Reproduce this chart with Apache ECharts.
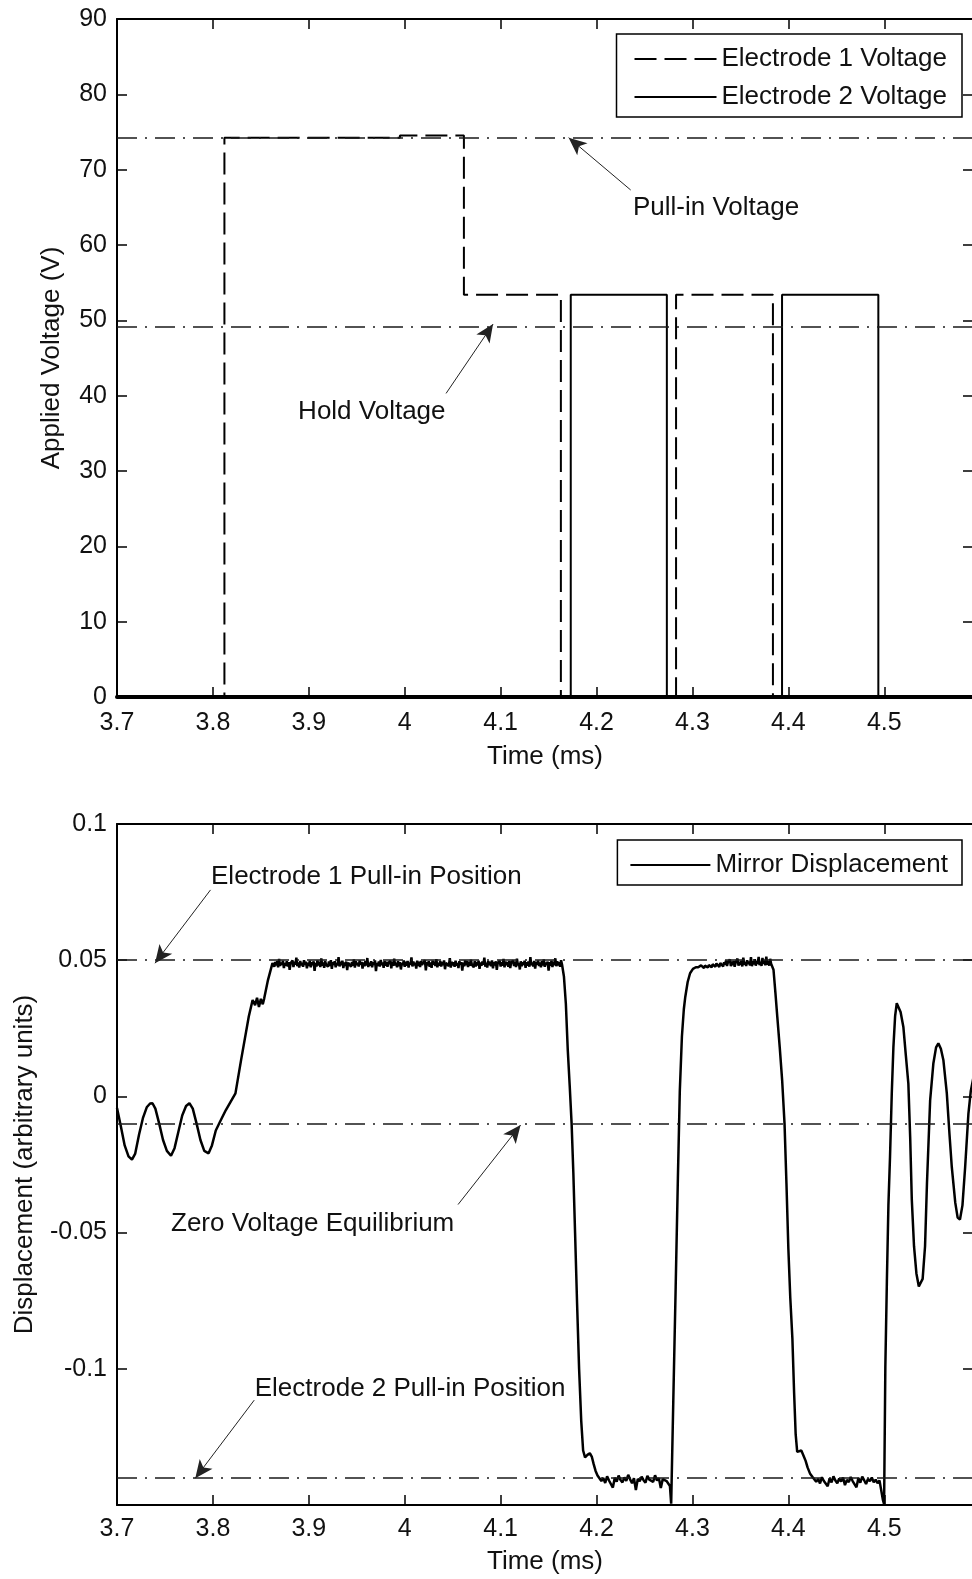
<!DOCTYPE html>
<html>
<head>
<meta charset="utf-8">
<title>Electrode voltages and mirror displacement</title>
<script src="https://cdn.jsdelivr.net/npm/echarts@6/dist/echarts.min.js"></script>
<style>
  html, body { margin: 0; padding: 0; background: #ffffff; }
  #chart { width: 972px; height: 1579px; }
</style>
</head>
<body>
<div id="chart"></div>
<script>
// ---------------- axis ranges ----------------
const timeMin = 3.7;
const timeMax = 4.5925;
const timeStep = 0.1;
const voltageMin = 0;
const voltageMax = 90;
const voltageStep = 10;
const displacementMin = -0.15;
const displacementMax = 0.1;
const displacementStep = 0.05;

// ---------------- applied voltages (time ms, volts) ----------------
const electrode1Voltage = [
  [3.700, 0], [3.812, 0], [3.812, 74.25], [3.995, 74.25], [3.995, 74.55],
  [4.0617, 74.55], [4.0617, 53.4], [4.1628, 53.4], [4.1628, 0],
  [4.2829, 0], [4.2829, 53.4], [4.3839, 53.4], [4.3839, 0], [4.600, 0]
];
const electrode2Voltage = [
  [3.700, 0], [4.1731, 0], [4.1731, 53.4], [4.2733, 53.4], [4.2733, 0],
  [4.3934, 0], [4.3934, 53.4], [4.4938, 53.4], [4.4938, 0], [4.600, 0]
];
const pullInVoltage = 74.25;
const holdVoltage = 49.15;

// ---------------- mirror displacement ----------------
const electrode1PullInPosition = 0.0486;
const zeroVoltageEquilibrium = -0.0111;
const electrode2PullInPosition = -0.1402;

// sample spacing of the plateau records (ms)
const highSampleStep = 0.001;
const lowSampleStep = 0.002;

// ringing before and the climb into electrode 1 pull-in
const dispOnset = [
  [3.7000,-0.0043],[3.7040,-0.0110],[3.7080,-0.0180],[3.7120,-0.0220],[3.7156,-0.0232],
  [3.7190,-0.0210],[3.7230,-0.0140],[3.7270,-0.0080],[3.7310,-0.0040],[3.7345,-0.0026],
  [3.7370,-0.0025],[3.7400,-0.0045],[3.7440,-0.0100],[3.7480,-0.0160],[3.7520,-0.0200],
  [3.7563,-0.0218],[3.7600,-0.0190],[3.7640,-0.0130],[3.7680,-0.0070],[3.7720,-0.0035],
  [3.7755,-0.0025],[3.7790,-0.0045],[3.7830,-0.0100],[3.7870,-0.0160],[3.7910,-0.0200],
  [3.7955,-0.0209],[3.7990,-0.0180],[3.8030,-0.0125],[3.8074,-0.0093],[3.8135,-0.0050],
  [3.8235,0.0011],[3.8294,0.0134],[3.8374,0.0293],[3.8414,0.0354],[3.8440,0.0335],
  [3.8460,0.0362],[3.8480,0.0328],[3.8500,0.0358],[3.8520,0.0338],[3.8535,0.0360],
  [3.8574,0.0427],[3.8621,0.0489]
];
// held against electrode 1 (3.864 - 4.164 ms)
const dispHigh1Start = 3.864;
const dispHigh1 = [
  0.0476,0.0493,0.0481,0.0497,0.0474,0.0505,0.0479,0.0491,0.0483,0.0498,
  0.0471,0.0490,0.0480,0.0496,0.0477,0.0493,0.0465,0.0489,0.0482,0.0499,
  0.0475,0.0494,0.0484,0.0509,0.0478,0.0492,0.0473,0.0497,0.0481,0.0490,
  0.0476,0.0500,0.0483,0.0495,0.0470,0.0491,0.0479,0.0498,0.0474,0.0493,
  0.0482,0.0496,0.0461,0.0490,0.0477,0.0499,0.0481,0.0494,0.0475,0.0507,
  0.0480,0.0492,0.0472,0.0497,0.0484,0.0491,0.0476,0.0495,0.0479,0.0500,
  0.0468,0.0493,0.0483,0.0496,0.0474,0.0490,0.0481,0.0511,0.0477,0.0494,
  0.0482,0.0498,0.0471,0.0492,0.0479,0.0495,0.0464,0.0491,0.0484,0.0497,
  0.0476,0.0493,0.0480,0.0503,0.0473,0.0496,0.0482,0.0490,0.0477,0.0499,
  0.0484,0.0494,0.0469,0.0492,0.0478,0.0497,0.0481,0.0508,0.0475,0.0491,
  0.0480,0.0496,0.0474,0.0493,0.0483,0.0499,0.0460,0.0490,0.0479,0.0495,
  0.0477,0.0501,0.0482,0.0492,0.0472,0.0497,0.0480,0.0494,0.0476,0.0490,
  0.0483,0.0498,0.0470,0.0495,0.0479,0.0506,0.0481,0.0491,0.0474,0.0496,
  0.0478,0.0493,0.0466,0.0490,0.0482,0.0499,0.0476,0.0494,0.0480,0.0497,
  0.0473,0.0492,0.0484,0.0510,0.0477,0.0495,0.0481,0.0491,0.0469,0.0498,
  0.0479,0.0494,0.0475,0.0497,0.0483,0.0490,0.0478,0.0500,0.0463,0.0493,
  0.0481,0.0496,0.0476,0.0492,0.0472,0.0498,0.0484,0.0495,0.0479,0.0504,
  0.0474,0.0491,0.0480,0.0497,0.0477,0.0493,0.0482,0.0499,0.0467,0.0490,
  0.0483,0.0495,0.0478,0.0508,0.0473,0.0494,0.0481,0.0492,0.0476,0.0498,
  0.0480,0.0490,0.0471,0.0496,0.0484,0.0493,0.0462,0.0491,0.0478,0.0499,
  0.0482,0.0497,0.0475,0.0494,0.0479,0.0502,0.0483,0.0490,0.0474,0.0496,
  0.0477,0.0493,0.0481,0.0498,0.0468,0.0492,0.0480,0.0495,0.0484,0.0509,
  0.0476,0.0491,0.0473,0.0497,0.0482,0.0494,0.0478,0.0499,0.0470,0.0493,
  0.0481,0.0496,0.0465,0.0490,0.0483,0.0498,0.0477,0.0492,0.0480,0.0505,
  0.0474,0.0495,0.0482,0.0493,0.0476,0.0497,0.0471,0.0491,0.0484,0.0499,
  0.0479,0.0494,0.0475,0.0506,0.0481,0.0490,0.0466,0.0496,0.0478,0.0492,
  0.0483,0.0498,0.0472,0.0493,0.0480,0.0495,0.0476,0.0511,0.0482,0.0491,
  0.0477,0.0497,0.0469,0.0494,0.0484,0.0499,0.0479,0.0492,0.0474,0.0496,
  0.0481,0.0503,0.0476,0.0491,0.0483,0.0495,0.0462,0.0493,0.0480,0.0498,
  0.0475,0.0494,0.0482,0.0507,0.0478,0.0496,0.0481,0.0492,0.0476,0.0500,
  0.0484
];
const dispFall1 = [
  [4.1660,0.0440],[4.1680,0.0340],[4.1700,0.0170],[4.1720,0.0040],[4.1740,-0.0100],
  [4.1758,-0.0280],[4.1776,-0.0500],[4.1797,-0.0760],[4.1818,-0.1000],[4.1840,-0.1190],
  [4.1860,-0.1300],[4.1880,-0.1325],[4.1905,-0.1316],[4.1930,-0.1310],[4.1950,-0.1322],
  [4.1970,-0.1350],[4.1990,-0.1375],[4.2010,-0.1392]
];
// held against electrode 2 (4.203 - 4.275 ms)
const dispLow1Start = 4.203;
const dispLow1 = [
  -0.1398,-0.1412,-0.1401,-0.1419,-0.1395,-0.1410,-0.1403,-0.1436,-0.1400,-0.1414,
  -0.1392,-0.1408,-0.1417,-0.1399,-0.1411,-0.1389,-0.1406,-0.1420,-0.1402,-0.1445,
  -0.1404,-0.1413,-0.1396,-0.1409,-0.1418,-0.1393,-0.1407,-0.1400,-0.1415,-0.1391,
  -0.1410,-0.1402,-0.1438,-0.1405,-0.1398,-0.1412,-0.1406
];
const dispRise1 = [
  [4.2765,-0.1430],[4.2778,-0.1495],[4.2800,-0.1120],[4.2825,-0.0700],[4.2848,-0.0300],
  [4.2868,0.0020],[4.2890,0.0220],[4.2910,0.0320],[4.2925,0.0365],[4.2950,0.0420],
  [4.2975,0.0452],[4.3005,0.0468],[4.3035,0.0474]
];
// held against electrode 1 again (4.306 - 4.382 ms)
const dispHigh2Start = 4.306;
const dispHigh2 = [
  0.0474,0.0479,0.0472,0.0481,0.0476,0.0483,0.0471,0.0480,0.0477,0.0486,
  0.0473,0.0482,0.0478,0.0489,0.0474,0.0485,0.0480,0.0491,0.0476,0.0488,
  0.0481,0.0494,0.0475,0.0490,0.0483,0.0496,0.0477,0.0492,0.0484,0.0499,
  0.0479,0.0493,0.0486,0.0503,0.0478,0.0495,0.0482,0.0497,0.0476,0.0491,
  0.0485,0.0506,0.0480,0.0494,0.0483,0.0498,0.0477,0.0509,0.0484,0.0493,
  0.0479,0.0500,0.0486,0.0495,0.0481,0.0511,0.0478,0.0496,0.0485,0.0504,
  0.0480,0.0497,0.0487,0.0512,0.0482,0.0494,0.0479,0.0508,0.0486,0.0499,
  0.0481,0.0513,0.0484,0.0496,0.0480,0.0505,0.0487
];
const dispFall2 = [
  [4.3845,0.0465],[4.3865,0.0380],[4.3885,0.0290],[4.3910,0.0180],[4.3935,0.0060],
  [4.3960,-0.0100],[4.3980,-0.0320],[4.4000,-0.0560],[4.4020,-0.0740],[4.4042,-0.0890],
  [4.4060,-0.1090],[4.4076,-0.1240],[4.4092,-0.1305],[4.4112,-0.1298],[4.4135,-0.1300],
  [4.4157,-0.1318],[4.4180,-0.1338],[4.4200,-0.1362],[4.4225,-0.1384],[4.4250,-0.1396]
];
// held against electrode 2 again (4.427 - 4.495 ms)
const dispLow2Start = 4.427;
const dispLow2 = [
  -0.1400,-0.1415,-0.1404,-0.1421,-0.1398,-0.1412,-0.1406,-0.1431,-0.1402,-0.1417,
  -0.1395,-0.1410,-0.1420,-0.1403,-0.1414,-0.1399,-0.1427,-0.1408,-0.1416,-0.1397,
  -0.1412,-0.1405,-0.1435,-0.1401,-0.1418,-0.1396,-0.1409,-0.1423,-0.1404,-0.1413,
  -0.1399,-0.1417,-0.1407,-0.1420,-0.1410
];
// release: free ringing about the zero-voltage equilibrium
const dispRelease = [
  [4.4965,-0.1440],[4.4985,-0.1480],[4.4998,-0.1497],[4.5011,-0.0995],[4.5027,-0.0680],
  [4.5043,-0.0400],[4.5060,-0.0220],[4.5078,0.0010],[4.5095,0.0180],[4.5113,0.0295],
  [4.5130,0.0342],[4.5147,0.0345],[4.5170,0.0310],[4.5199,0.0255],[4.5225,0.0150],
  [4.5251,0.0047],[4.5270,-0.0150],[4.5287,-0.0380],[4.5310,-0.0550],[4.5335,-0.0650],
  [4.5360,-0.0698],[4.5380,-0.0705],[4.5400,-0.0670],[4.5425,-0.0550],[4.5445,-0.0320],
  [4.5478,-0.0015],[4.5512,0.0122],[4.5540,0.0180],[4.5564,0.0195],[4.5590,0.0175],
  [4.5616,0.0134],[4.5652,0.0011],[4.5680,-0.0140],[4.5704,-0.0260],[4.5740,-0.0390],
  [4.5765,-0.0445],[4.5789,-0.0452],[4.5815,-0.0400],[4.5843,-0.0260],[4.5877,-0.0064],
  [4.5902,0.0020],[4.5935,0.0080],[4.5965,0.0110]
];

// ---------------- annotation anchors (time ms, value) ----------------
const voltageNotes = [
  { text: 'Pull-in Voltage', at: [4.2374, 65.3], tail: [4.2356, 67.3], tip: [4.1709, 74.25] },
  { text: 'Hold Voltage', at: [3.8883, 38.2], tail: [4.0431, 40.3], tip: [4.0921, 49.5] }
];
const displacementNotes = [
  { text: 'Electrode 1 Pull-in Position', at: [3.7975, 0.0816], tail: [3.7975, 0.0758], tip: [3.7396, 0.0489] },
  { text: 'Zero Voltage Equilibrium', at: [3.7558, -0.0457], tail: [4.0556, -0.0397], tip: [4.1208, -0.0105] },
  { text: 'Electrode 2 Pull-in Position', at: [3.8431, -0.1063], tail: [3.8431, -0.1115], tip: [3.7816, -0.1402] }
];

// ---------------- assemble the displacement record ----------------
function sampled(start, step, values) {
  return values.map((v, i) => [+(start + i * step).toFixed(4), v]);
}
const mirrorDisplacement = [].concat(
  dispOnset,
  sampled(dispHigh1Start, highSampleStep, dispHigh1),
  dispFall1,
  sampled(dispLow1Start, lowSampleStep, dispLow1),
  dispRise1,
  sampled(dispHigh2Start, highSampleStep, dispHigh2),
  dispFall2,
  sampled(dispLow2Start, lowSampleStep, dispLow2),
  dispRelease
);

// ---------------- styling ----------------
const FONT = '"Liberation Sans", Arial, Helvetica, sans-serif';
const INK = '#000000';
const TEXT = '#111111';
const TICK_FS = 25;
const FS = 26;
const refLineDash = [20, 8, 2, 8];

function bottomTimeAxis(gridIndex, labelMargin, nameGap, lineWidth) {
  return {
    gridIndex, type: 'value', position: 'bottom',
    min: timeMin, max: timeMax, interval: timeStep,
    axisLine: { show: true, onZero: false, lineStyle: { color: INK, width: lineWidth } },
    axisTick: { show: true, inside: true, length: 10, lineStyle: { color: INK, width: 1.5 } },
    axisLabel: { show: true, margin: labelMargin, color: TEXT, fontFamily: FONT, fontSize: TICK_FS,
                 showMaxLabel: false, hideOverlap: false },
    splitLine: { show: false },
    name: 'Time (ms)', nameLocation: 'middle', nameGap, nameMoveOverlap: false,
    nameTextStyle: { color: TEXT, fontFamily: FONT, fontSize: FS }
  };
}
function topTimeAxis(gridIndex) {
  return {
    gridIndex, type: 'value', position: 'top',
    min: timeMin, max: timeMax, interval: timeStep,
    axisLine: { show: true, onZero: false, lineStyle: { color: INK, width: 2 } },
    axisTick: { show: true, inside: true, length: 10, lineStyle: { color: INK, width: 1.5 } },
    axisLabel: { show: false }, splitLine: { show: false }
  };
}
function leftValueAxis(gridIndex, min, max, interval, name, nameGap, extraLabel) {
  return {
    gridIndex, type: 'value', position: 'left', min, max, interval,
    axisLine: { show: true, onZero: false, lineStyle: { color: INK, width: 2 } },
    axisTick: { show: true, inside: true, length: 10, lineStyle: { color: INK, width: 1.5 } },
    axisLabel: Object.assign({ show: true, margin: 10, color: TEXT, fontFamily: FONT, fontSize: TICK_FS,
                               padding: [8, 0, 0, 0], hideOverlap: false }, extraLabel || {}),
    splitLine: { show: false },
    name, nameLocation: 'middle', nameRotate: 90, nameGap, nameMoveOverlap: false,
    nameTextStyle: { color: TEXT, fontFamily: FONT, fontSize: FS }
  };
}
function rightValueAxis(gridIndex, min, max, interval) {
  return {
    gridIndex, type: 'value', position: 'right', min, max, interval,
    axisLine: { show: true, onZero: false, lineStyle: { color: INK, width: 2 } },
    axisTick: { show: true, inside: true, length: 10, lineStyle: { color: INK, width: 1.5 } },
    axisLabel: { show: false }, splitLine: { show: false }
  };
}

function levelLines(xi, yi, levels) {
  return {
    type: 'line', xAxisIndex: xi, yAxisIndex: yi, data: [], silent: true,
    markLine: {
      silent: true, symbol: 'none', animation: false,
      label: { show: false },
      lineStyle: { color: '#1a1a1a', width: 1.5, type: refLineDash },
      emphasis: { disabled: true },
      data: levels.map(v => ({ yAxis: v }))
    }
  };
}
function noteSeries(xi, yi, notes) {
  return {
    type: 'line', xAxisIndex: xi, yAxisIndex: yi, data: [], silent: true,
    markLine: {
      silent: true, animation: false,
      symbol: ['none', 'arrow'], symbolSize: [12, 18],
      label: { show: false },
      lineStyle: { color: '#222222', width: 1, type: 'solid' },
      itemStyle: { color: '#111111' },
      emphasis: { disabled: true },
      data: notes.map(n => [{ coord: n.tail }, { coord: n.tip }])
    },
    markPoint: {
      silent: true, animation: false,
      symbol: 'circle', symbolSize: 1, itemStyle: { color: 'rgba(0,0,0,0)' },
      data: notes.map(n => ({
        coord: n.at,
        label: { show: true, position: 'right', distance: 0, offset: [0, 3], formatter: n.text,
                 color: TEXT, fontFamily: FONT, fontSize: FS }
      }))
    }
  };
}

const legendCommon = {
  orient: 'vertical', align: 'left', right: 10,
  itemWidth: 82, itemHeight: 14,
  borderColor: INK, borderWidth: 1.5, borderRadius: 0, backgroundColor: '#ffffff',
  selectedMode: false,
  itemStyle: { color: 'rgba(0,0,0,0)', borderColor: 'rgba(0,0,0,0)', borderWidth: 0, opacity: 0 },
  textStyle: { color: TEXT, fontFamily: FONT, fontSize: FS }
};

const chart = echarts.init(document.getElementById('chart'), null, { renderer: 'canvas' });
chart.setOption({
  animation: false,
  backgroundColor: '#ffffff',
  textStyle: { fontFamily: FONT },
  grid: [
    { left: 117, top: 19, width: 856, height: 678, outerBoundsMode: 'none', containLabel: false },
    { left: 117, top: 824, width: 856, height: 681, outerBoundsMode: 'none', containLabel: false }
  ],
  xAxis: [
    bottomTimeAxis(0, 14, 47, 4), topTimeAxis(0),
    bottomTimeAxis(1, 12, 44, 2), topTimeAxis(1)
  ],
  yAxis: [
    leftValueAxis(0, voltageMin, voltageMax, voltageStep, 'Applied Voltage (V)', 52),
    rightValueAxis(0, voltageMin, voltageMax, voltageStep),
    leftValueAxis(1, displacementMin, displacementMax, displacementStep,
                  'Displacement (arbitrary units)', 79, { showMinLabel: false }),
    rightValueAxis(1, displacementMin, displacementMax, displacementStep)
  ],
  legend: [
    Object.assign({}, legendCommon, {
      top: 34, itemGap: 12, padding: [12, 15, 7, 17],
      data: ['Electrode 1 Voltage', 'Electrode 2 Voltage']
    }),
    Object.assign({}, legendCommon, {
      top: 840, itemWidth: 80, padding: [12, 14, 7, 12],
      data: ['Mirror Displacement']
    })
  ],
  series: [
    levelLines(0, 0, [pullInVoltage, holdVoltage]),
    {
      name: 'Electrode 2 Voltage', type: 'line', xAxisIndex: 0, yAxisIndex: 0,
      data: electrode2Voltage, symbol: 'none', showSymbol: false,
      lineStyle: { color: INK, width: 2, type: 'solid' }, itemStyle: { color: INK },
      emphasis: { disabled: true }
    },
    {
      name: 'Electrode 1 Voltage', type: 'line', xAxisIndex: 0, yAxisIndex: 0,
      data: electrode1Voltage, symbol: 'none', showSymbol: false,
      lineStyle: { color: INK, width: 2, type: [22, 8] }, itemStyle: { color: INK },
      emphasis: { disabled: true }
    },
    noteSeries(0, 0, voltageNotes),
    levelLines(2, 2, [electrode1PullInPosition, zeroVoltageEquilibrium, electrode2PullInPosition]),
    {
      name: 'Mirror Displacement', type: 'line', xAxisIndex: 2, yAxisIndex: 2,
      data: mirrorDisplacement, symbol: 'none', showSymbol: false,
      lineStyle: { color: INK, width: 2.5, type: 'solid' }, itemStyle: { color: INK },
      emphasis: { disabled: true }
    },
    noteSeries(2, 2, displacementNotes)
  ]
});
</script>
</body>
</html>
